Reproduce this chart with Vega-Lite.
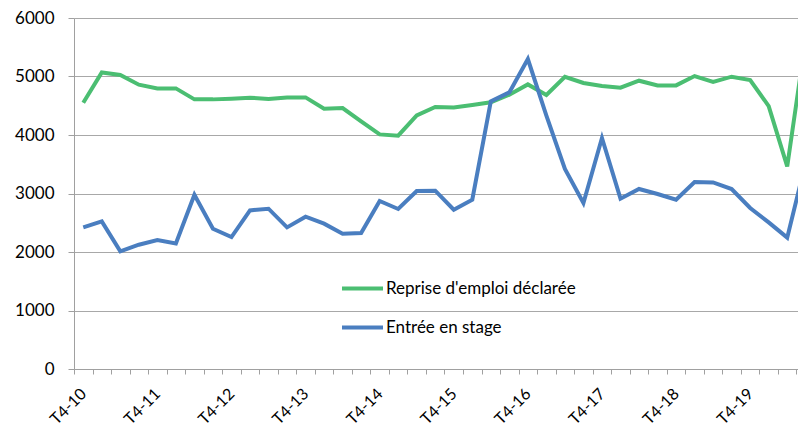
{
  "$schema": "https://vega.github.io/schema/vega-lite/v6.json",
  "autosize": {"type": "none"},
  "width": 724,
  "height": 351,
  "padding": {"left": 74, "top": 18, "right": 0, "bottom": 61},
  "background": "white",
  "config": {"view": {"stroke": null}, "font": "Lato"},
  "data": {"values": [
    {"t": "T4-10", "s": "Reprise d'emploi déclarée", "v": 4550},
    {"t": "T1-11", "s": "Reprise d'emploi déclarée", "v": 5070},
    {"t": "T2-11", "s": "Reprise d'emploi déclarée", "v": 5025},
    {"t": "T3-11", "s": "Reprise d'emploi déclarée", "v": 4860},
    {"t": "T4-11", "s": "Reprise d'emploi déclarée", "v": 4797},
    {"t": "T1-12", "s": "Reprise d'emploi déclarée", "v": 4797},
    {"t": "T2-12", "s": "Reprise d'emploi déclarée", "v": 4609},
    {"t": "T3-12", "s": "Reprise d'emploi déclarée", "v": 4609},
    {"t": "T4-12", "s": "Reprise d'emploi déclarée", "v": 4620},
    {"t": "T1-13", "s": "Reprise d'emploi déclarée", "v": 4638},
    {"t": "T2-13", "s": "Reprise d'emploi déclarée", "v": 4615},
    {"t": "T3-13", "s": "Reprise d'emploi déclarée", "v": 4643},
    {"t": "T4-13", "s": "Reprise d'emploi déclarée", "v": 4643},
    {"t": "T1-14", "s": "Reprise d'emploi déclarée", "v": 4450},
    {"t": "T2-14", "s": "Reprise d'emploi déclarée", "v": 4461},
    {"t": "T3-14", "s": "Reprise d'emploi déclarée", "v": 4233},
    {"t": "T4-14", "s": "Reprise d'emploi déclarée", "v": 4010},
    {"t": "T1-15", "s": "Reprise d'emploi déclarée", "v": 3988},
    {"t": "T2-15", "s": "Reprise d'emploi déclarée", "v": 4335},
    {"t": "T3-15", "s": "Reprise d'emploi déclarée", "v": 4479},
    {"t": "T4-15", "s": "Reprise d'emploi déclarée", "v": 4470},
    {"t": "T1-16", "s": "Reprise d'emploi déclarée", "v": 4512},
    {"t": "T2-16", "s": "Reprise d'emploi déclarée", "v": 4560},
    {"t": "T3-16", "s": "Reprise d'emploi déclarée", "v": 4689},
    {"t": "T4-16", "s": "Reprise d'emploi déclarée", "v": 4865},
    {"t": "T1-17", "s": "Reprise d'emploi déclarée", "v": 4685},
    {"t": "T2-17", "s": "Reprise d'emploi déclarée", "v": 4995},
    {"t": "T3-17", "s": "Reprise d'emploi déclarée", "v": 4889},
    {"t": "T4-17", "s": "Reprise d'emploi déclarée", "v": 4838},
    {"t": "T1-18", "s": "Reprise d'emploi déclarée", "v": 4809},
    {"t": "T2-18", "s": "Reprise d'emploi déclarée", "v": 4928},
    {"t": "T3-18", "s": "Reprise d'emploi déclarée", "v": 4848},
    {"t": "T4-18", "s": "Reprise d'emploi déclarée", "v": 4848},
    {"t": "T1-19", "s": "Reprise d'emploi déclarée", "v": 5008},
    {"t": "T2-19", "s": "Reprise d'emploi déclarée", "v": 4906},
    {"t": "T3-19", "s": "Reprise d'emploi déclarée", "v": 4997},
    {"t": "T4-19", "s": "Reprise d'emploi déclarée", "v": 4940},
    {"t": "T1-20", "s": "Reprise d'emploi déclarée", "v": 4495},
    {"t": "T2-20", "s": "Reprise d'emploi déclarée", "v": 3463},
    {"t": "T3-20", "s": "Reprise d'emploi déclarée", "v": 5650},
    {"t": "T4-10", "s": "Entrée en stage", "v": 2421},
    {"t": "T1-11", "s": "Entrée en stage", "v": 2523},
    {"t": "T2-11", "s": "Entrée en stage", "v": 2010},
    {"t": "T3-11", "s": "Entrée en stage", "v": 2125},
    {"t": "T4-11", "s": "Entrée en stage", "v": 2205},
    {"t": "T1-12", "s": "Entrée en stage", "v": 2147},
    {"t": "T2-12", "s": "Entrée en stage", "v": 2979},
    {"t": "T3-12", "s": "Entrée en stage", "v": 2398},
    {"t": "T4-12", "s": "Entrée en stage", "v": 2256},
    {"t": "T1-13", "s": "Entrée en stage", "v": 2711},
    {"t": "T2-13", "s": "Entrée en stage", "v": 2740},
    {"t": "T3-13", "s": "Entrée en stage", "v": 2421},
    {"t": "T4-13", "s": "Entrée en stage", "v": 2603},
    {"t": "T1-14", "s": "Entrée en stage", "v": 2484},
    {"t": "T2-14", "s": "Entrée en stage", "v": 2313},
    {"t": "T3-14", "s": "Entrée en stage", "v": 2325},
    {"t": "T4-14", "s": "Entrée en stage", "v": 2872},
    {"t": "T1-15", "s": "Entrée en stage", "v": 2735},
    {"t": "T2-15", "s": "Entrée en stage", "v": 3043},
    {"t": "T3-15", "s": "Entrée en stage", "v": 3048},
    {"t": "T4-15", "s": "Entrée en stage", "v": 2723},
    {"t": "T1-16", "s": "Entrée en stage", "v": 2894},
    {"t": "T2-16", "s": "Entrée en stage", "v": 4575},
    {"t": "T3-16", "s": "Entrée en stage", "v": 4729},
    {"t": "T4-16", "s": "Entrée en stage", "v": 5299},
    {"t": "T1-17", "s": "Entrée en stage", "v": 4330},
    {"t": "T2-17", "s": "Entrée en stage", "v": 3420},
    {"t": "T3-17", "s": "Entrée en stage", "v": 2838},
    {"t": "T4-17", "s": "Entrée en stage", "v": 3949},
    {"t": "T1-18", "s": "Entrée en stage", "v": 2911},
    {"t": "T2-18", "s": "Entrée en stage", "v": 3077},
    {"t": "T3-18", "s": "Entrée en stage", "v": 2991},
    {"t": "T4-18", "s": "Entrée en stage", "v": 2894},
    {"t": "T1-19", "s": "Entrée en stage", "v": 3197},
    {"t": "T2-19", "s": "Entrée en stage", "v": 3190},
    {"t": "T3-19", "s": "Entrée en stage", "v": 3077},
    {"t": "T4-19", "s": "Entrée en stage", "v": 2752},
    {"t": "T1-20", "s": "Entrée en stage", "v": 2506},
    {"t": "T2-20", "s": "Entrée en stage", "v": 2245},
    {"t": "T3-20", "s": "Entrée en stage", "v": 3540}
  ]},
  "mark": {"type": "line", "strokeWidth": 4, "clip": true},
  "encoding": {
    "x": {
      "field": "t", "type": "ordinal", "sort": null, "bandPosition": 0.5,
      "scale": {"type": "band", "range": [0, 741], "paddingInner": 0, "paddingOuter": 0},
      "axis": {
        "title": null, "tickBand": "extent", "labelAngle": -45, "labelAlign": "right", "labelBaseline": "middle",
        "labelExpr": "indexof(datum.label, 'T4') == 0 ? datum.label : ''",
        "labelOverlap": false, "labelFont": "Lato", "labelFontSize": 16, "labelColor": "#000000",
        "labelPadding": 17, "tickSize": 5, "tickColor": "#a0a0a0", "domainColor": "#a0a0a0", "grid": false
      }
    },
    "y": {
      "field": "v", "type": "quantitative",
      "scale": {"domain": [0, 6000], "nice": false},
      "axis": {
        "title": null, "values": [0, 1000, 2000, 3000, 4000, 5000, 6000], "format": "d",
        "labelFont": "Lato", "labelFontSize": 17, "labelColor": "#000000", "labelPadding": 14,
        "tickSize": 6, "tickColor": "#a0a0a0", "domainColor": "#a0a0a0",
        "grid": true, "gridColor": "#a8a8a8", "gridWidth": 1
      }
    },
    "color": {
      "field": "s", "type": "nominal",
      "scale": {"domain": ["Reprise d'emploi déclarée", "Entrée en stage"], "range": ["#4BBE72", "#4A7EC0"]},
      "legend": {
        "title": null, "orient": "none", "legendX": 266, "legendY": 248,
        "symbolType": "stroke", "symbolSize": 1681, "symbolStrokeWidth": 4,
        "labelFont": "Lato", "labelFontSize": 17, "labelColor": "#000000", "labelOffset": 1, "labelLimit": 400,
        "rowPadding": 8, "padding": 0
      }
    }
  }
}
